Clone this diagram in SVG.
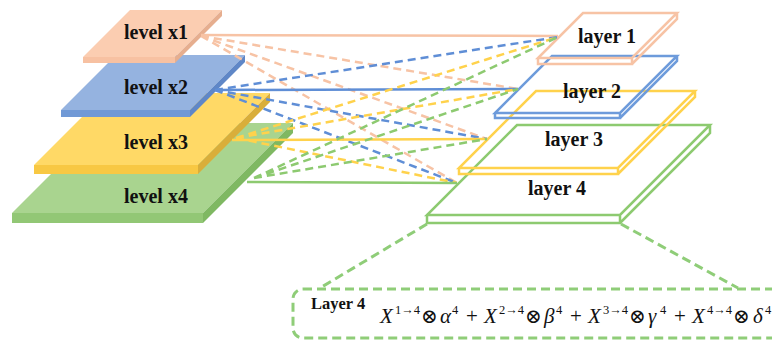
<svg xmlns="http://www.w3.org/2000/svg" width="772" height="341" viewBox="0 0 772 341">
<style>
.lbl{font-family:"Liberation Serif","Times New Roman",serif;font-weight:bold;font-size:20px;fill:#111;text-anchor:middle}
.math{font-family:"Liberation Serif","Times New Roman",serif;font-size:21px;fill:#111}
.it{font-style:italic}
.sup{font-size:12.5px}
.op{font-family:"DejaVu Serif","Liberation Serif",serif;font-size:20px}
.ol{fill:none;stroke-width:2.5;stroke-linejoin:miter}
.sol{fill:none;stroke-width:2.5}
.dsh{fill:none;stroke-width:2.5;stroke-dasharray:8 5}
.gdash{fill:none;stroke:#8FCD78;stroke-width:3;stroke-dasharray:9 5}
.c1{stroke:#F7C3A5}.c2{stroke:#5F8ED6}.c3{stroke:#FFD24C}.c4{stroke:#8DCA70}
</style>
<rect width="772" height="341" fill="#fff"/>

<!-- left slabs, back to front -->
<g id="level-x4">
<polygon points="102,123 293,123 203,213 12,213" fill="#A9D48F"/>
<rect x="12" y="213" width="191" height="10" fill="#92C775"/>
<polygon points="293,123 293,133 203,223 203,213" fill="#7FB862"/>
<text class="lbl" x="156" y="203">level x4</text>
</g>
<g id="level-x3">
<polygon points="106,93 270,93 198,165 34,165" fill="#FFD966"/>
<rect x="34" y="165" width="164" height="9" fill="#F8C843"/>
<polygon points="270,93 270,102 198,174 198,165" fill="#D9AE3A"/>
<text class="lbl" x="156" y="149">level x3</text>
</g>
<g id="level-x2">
<polygon points="116,55 245,55 190,110 61,110" fill="#95B3E0"/>
<rect x="61" y="110" width="129" height="7" fill="#7099D6"/>
<polygon points="245,55 245,62 190,117 190,110" fill="#5F87C7"/>
<text class="lbl" x="156" y="94">level x2</text>
</g>
<g id="level-x1">
<polygon points="130,10 222,10 175,57 83,57" fill="#FBCDB1"/>
<rect x="83" y="57" width="92" height="6" fill="#F7C1A2"/>
<polygon points="222,10 222,16 175,63 175,57" fill="#E6AE8F"/>
<text class="lbl" x="156" y="39">level x1</text>
</g>

<!-- right layers (outlines) -->
<g id="layer-4">
<path class="ol c4" d="M517,125 H710 L620,215 H427 Z M427,215 V223 H620 V215 M620,223 L710,133 V125"/>
<text class="lbl" x="557" y="195">layer 4</text>
</g>
<g id="layer-3">
<path class="ol c3" d="M536,91 H695 L618,168 H459 Z M459,168 V174 H618 V168 M618,174 L695,97 V91"/>
<text class="lbl" x="574" y="146">layer 3</text>
</g>
<g id="layer-2">
<path class="ol" stroke="#6D9BDB" d="M552,56 H677 L620,113 H495 Z M495,113 V118 H620 V113 M620,118 L677,61 V56"/>
<text class="lbl" x="592" y="98">layer 2</text>
</g>
<g id="layer-1">
<path class="ol c1" d="M583,13 H677 L632,58 H538 Z M538,58 V64 H632 V58 M632,64 L677,19 V13"/>
<text class="lbl" x="607" y="43">layer 1</text>
</g>

<!-- connectors -->
<g id="connectors">
<path class="sol c1" d="M201,35 L558,36"/>
<path class="dsh c1" d="M201,36 L518,89 M201,36 L487,139 M201,36 L457,183"/>
<path class="sol c2" d="M218,90 L518,89"/>
<path class="dsh c2" d="M215,90 L558,37 M215,90 L487,139 M215,90 L457,183"/>
<path class="sol c3" d="M232,140 L487,139"/>
<path class="dsh c3" d="M236,138 L558,37 M236,138 L518,89 M236,138 L457,183"/>
<path class="sol c4" d="M247,182 L457,183"/>
<path class="dsh c4" d="M254,178 L558,37 M254,178 L518,89 M254,178 L487,139"/>
<path class="gdash" d="M427,224 L320,288 M621,224 L738,288"/>
</g>

<!-- detail box -->
<g id="detail-box">
<rect class="gdash" x="293" y="289" width="520" height="49" rx="10" ry="10"/>
<text x="311" y="309" style="font-family:'Liberation Serif','Times New Roman',serif;font-weight:bold;font-size:16.5px;fill:#111">Layer 4</text>
<text class="math">
<tspan class="it" x="380" y="323">X</tspan><tspan class="sup" x="395" y="314">1→4</tspan><tspan class="op" x="421" y="323">⊗</tspan><tspan class="it" x="440" y="323">α</tspan><tspan class="sup" x="452" y="314">4</tspan><tspan x="466" y="323">+</tspan>
<tspan class="it" x="484" y="323">X</tspan><tspan class="sup" x="499" y="314">2→4</tspan><tspan class="op" x="525" y="323">⊗</tspan><tspan class="it" x="544" y="323">β</tspan><tspan class="sup" x="556" y="314">4</tspan><tspan x="570" y="323">+</tspan>
<tspan class="it" x="588" y="323">X</tspan><tspan class="sup" x="603" y="314">3→4</tspan><tspan class="op" x="629" y="323">⊗</tspan><tspan class="it" x="648" y="323">γ</tspan><tspan class="sup" x="660" y="314">4</tspan><tspan x="674" y="323">+</tspan>
<tspan class="it" x="692" y="323">X</tspan><tspan class="sup" x="707" y="314">4→4</tspan><tspan class="op" x="733" y="323">⊗</tspan><tspan class="it" x="753" y="323">δ</tspan><tspan class="sup" x="765" y="314">4</tspan>
</text>
</g>
</svg>
